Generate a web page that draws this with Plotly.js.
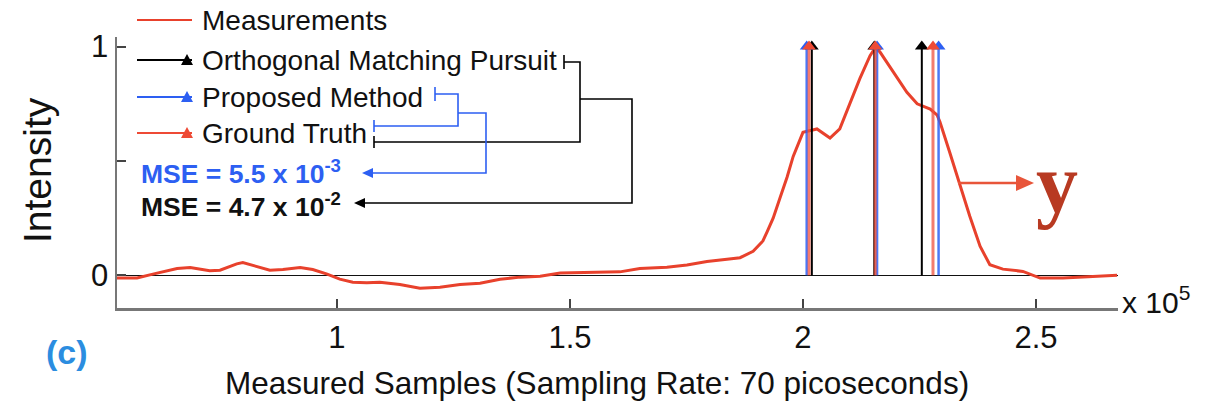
<!DOCTYPE html>
<html>
<head>
<meta charset="utf-8">
<script src="https://cdn.plot.ly/plotly-3.0.1.min.js"></script>
<style>html,body{margin:0;padding:0;background:#fff;}#chart{width:1214px;height:406px;}</style>
</head>
<body>
<div id="chart"></div>
<script>
// ---- data (x in units of 10^5 samples) ----
const sampleX = [0.528,0.571,0.605,0.657,0.685,0.727,0.749,0.785,0.798,0.828,0.856,0.884,0.921,0.948,0.979,1.006,1.034,1.064,1.092,1.135,1.178,1.221,1.264,1.307,1.350,1.393,1.436,1.479,1.521,1.564,1.607,1.650,1.708,1.751,1.794,1.837,1.865,1.893,1.914,1.923,1.936,1.951,1.966,1.979,2.000,2.030,2.058,2.079,2.101,2.122,2.144,2.155,2.165,2.193,2.223,2.245,2.266,2.273,2.288,2.294,2.315,2.337,2.358,2.380,2.401,2.429,2.472,2.509,2.558,2.601,2.674];
const measured = [-0.012,-0.012,0.005,0.030,0.034,0.020,0.022,0.050,0.056,0.040,0.022,0.025,0.034,0.025,0.005,-0.017,-0.030,-0.033,-0.030,-0.040,-0.057,-0.052,-0.040,-0.035,-0.017,-0.008,-0.004,0.010,0.012,0.015,0.015,0.030,0.035,0.045,0.060,0.070,0.077,0.105,0.150,0.190,0.250,0.340,0.430,0.520,0.625,0.640,0.600,0.640,0.757,0.860,0.960,0.995,0.977,0.890,0.800,0.750,0.735,0.727,0.700,0.670,0.537,0.390,0.258,0.127,0.046,0.027,0.017,-0.012,-0.012,-0.007,0.000];

const ompX = [2.019,2.153,2.255];
const ompY = [1,1,1];
const propX = [2.008,2.159,2.291];
const propY = [1,1,1];
const truthX = [2.013,2.155,2.279];
const truthY = [1,1,1];

const xTickVals = [1,1.5,2,2.5];
const xTickText = ['1','1.5','2','2.5'];
const yTickVals = [0,0.5,1];
const yTickText = ['0',' ','1'];

const legendNames = ['Measurements','Orthogonal Matching Pursuit','Proposed Method','Ground Truth'];
const mseProposed = 'MSE = 5.5 x 10<sup>-3</sup>';
const mseOmp = 'MSE = 4.7 x 10<sup>-2</sup>';

// ---- styling ----
const W = 1214, H = 406;
const FONT = 'Liberation Sans, Arial, Helvetica, sans-serif';
const RED = '#e8412c', BLUE = '#2d5ff2', BLACK = '#000000', TRUTH = 'rgba(240,80,60,0.75)';
const px = x => x / W, py = y => 1 - y / H;
function path(pts){ return pts.map((p,i)=>(i?'L':'M')+px(p[0]).toFixed(5)+','+py(p[1]).toFixed(5)).join(' '); }
function tri(pts){ return path(pts)+' Z'; }

const traces = [
  {x: sampleX, y: measured, type:'scatter', mode:'lines', line:{color:RED, width:3}, name:legendNames[0], hoverinfo:'skip'},
  {x: ompX, y: ompY, type:'scatter', mode:'markers', name:legendNames[1],
   marker:{symbol:'triangle-up', size:12, color:BLACK},
   error_y:{type:'data', symmetric:false, array:[0,0,0], arrayminus:ompY, width:0, thickness:2, color:BLACK}},
  {x: propX, y: propY, type:'scatter', mode:'markers', name:legendNames[2],
   marker:{symbol:'triangle-up', size:12, color:BLUE},
   error_y:{type:'data', symmetric:false, array:[0,0,0], arrayminus:propY, width:0, thickness:2.5, color:'rgba(45,95,242,0.85)'}},
  {x: truthX, y: truthY, type:'scatter', mode:'markers', name:legendNames[3],
   marker:{symbol:'triangle-up', size:12, color:'#ee4a35'},
   error_y:{type:'data', symmetric:false, array:[0,0,0], arrayminus:truthY, width:0, thickness:3, color:TRUTH}}
];

// legend (drawn manually)
const legRows = [20, 60, 97, 133];
const legColors = [RED, BLACK, BLUE, '#ee4a35'];
const shapes = [];
const annotations = [];
legRows.forEach((r,i)=>{
  shapes.push({type:'line', xref:'paper', yref:'paper', x0:px(137), x1:px(192), y0:py(r), y1:py(r), line:{color:legColors[i], width:2}});
  if(i>0) shapes.push({type:'path', xref:'paper', yref:'paper', path:tri([[181,r+5],[193,r+5],[187,r-6]]), fillcolor:legColors[i], line:{width:0}});
  annotations.push({xref:'paper', yref:'paper', x:px(200), y:py(r), xanchor:'left', yanchor:'middle', showarrow:false,
    text:legendNames[i], font:{family:FONT, size:28, color:'#111'}});
});

// brackets
const BL = {color:BLACK, width:1.6}, BB = {color:BLUE, width:1.6};
shapes.push({type:'path', xref:'paper', yref:'paper', path:path([[564,55],[564,69]]), line:BL});
shapes.push({type:'path', xref:'paper', yref:'paper', path:path([[564,62],[580,62],[580,142],[374,142]]), line:BL});
shapes.push({type:'path', xref:'paper', yref:'paper', path:path([[374,136],[374,148]]), line:BL});
shapes.push({type:'path', xref:'paper', yref:'paper', path:path([[580,99],[632,99],[632,203],[364,203]]), line:BL});
shapes.push({type:'path', xref:'paper', yref:'paper', path:tri([[354,203],[365,198],[365,208]]), fillcolor:BLACK, line:{width:0}});
shapes.push({type:'path', xref:'paper', yref:'paper', path:path([[435,87],[435,101]]), line:BB});
shapes.push({type:'path', xref:'paper', yref:'paper', path:path([[435,94],[458,94],[458,126],[374,126]]), line:BB});
shapes.push({type:'path', xref:'paper', yref:'paper', path:path([[374,120],[374,132]]), line:BB});
shapes.push({type:'path', xref:'paper', yref:'paper', path:path([[458,113],[486,113],[486,173],[372,173]]), line:BB});
shapes.push({type:'path', xref:'paper', yref:'paper', path:tri([[362,173],[373,168],[373,178]]), fillcolor:BLUE, line:{width:0}});

// arrow to y
shapes.push({type:'line', xref:'paper', yref:'paper', x0:px(958), x1:px(1018), y0:py(183), y1:py(183), line:{color:'#e8553a', width:2.5}});
shapes.push({type:'path', xref:'paper', yref:'paper', path:tri([[1034,183],[1016,175],[1016,191]]), fillcolor:'#e8553a', line:{width:0}});

annotations.push(
  {xref:'paper', yref:'paper', x:px(139), y:py(172), xanchor:'left', yanchor:'middle', showarrow:false,
   text:'<b>'+mseProposed+'</b>', font:{family:FONT, size:26.5, color:BLUE}},
  {xref:'paper', yref:'paper', x:px(139), y:py(205), xanchor:'left', yanchor:'middle', showarrow:false,
   text:'<b>'+mseOmp+'</b>', font:{family:FONT, size:26.5, color:'#111'}},
  {xref:'paper', yref:'paper', x:px(1057), y:py(183), xanchor:'center', yanchor:'middle', showarrow:false,
   text:'<b>y</b>', font:{family:'Liberation Serif, Times New Roman, serif', size:84, color:'#b83a22'}},
  {xref:'paper', yref:'paper', x:px(1120), y:py(300), xanchor:'left', yanchor:'middle', showarrow:false,
   text:'x 10<sup>5</sup>', font:{family:FONT, size:30, color:'#111'}},
  {xref:'paper', yref:'paper', x:px(67), y:py(352), xanchor:'center', yanchor:'middle', showarrow:false,
   text:'<b>(c)</b>', font:{family:FONT, size:34, color:'#2b8de0'}},
  {xref:'paper', yref:'paper', x:px(597), y:py(383), xanchor:'center', yanchor:'middle', showarrow:false,
   text:'Measured Samples (Sampling Rate: 70 picoseconds)', font:{family:FONT, size:31.5, color:'#111'}},
  {xref:'paper', yref:'paper', x:px(37), y:py(170), xanchor:'center', yanchor:'middle', showarrow:false, textangle:-90,
   text:'Intensity', font:{family:FONT, size:39, color:'#111'}}
);

const layout = {
  width: W, height: H,
  margin: {l:0, r:0, t:0, b:0},
  paper_bgcolor:'#fff', plot_bgcolor:'#fff',
  showlegend:false,
  font:{family:FONT, color:'#111'},
  xaxis:{domain:[117/W, 1118/W], range:[0.528, 2.676], showgrid:false, zeroline:false,
    showline:true, linecolor:'#777', linewidth:2.5, mirror:false,
    ticks:'inside', ticklen:9, tickwidth:2, tickcolor:'#444',
    tickvals:xTickVals, ticktext:xTickText, tickfont:{family:FONT, size:31, color:'#111'}},
  yaxis:{domain:[1-308/H, 1-37/H], range:[-0.143, 1.042], showgrid:false,
    zeroline:true, zerolinecolor:'#111', zerolinewidth:1.5,
    showline:true, linecolor:'#777', linewidth:2.5,
    ticks:'inside', ticklen:9, tickwidth:2, tickcolor:'#444',
    tickvals:yTickVals, ticktext:yTickText, tickfont:{family:FONT, size:31, color:'#111'}},
  shapes: shapes,
  annotations: annotations
};

Plotly.newPlot('chart', traces, layout, {staticPlot:true, displayModeBar:false});
</script>
</body>
</html>
